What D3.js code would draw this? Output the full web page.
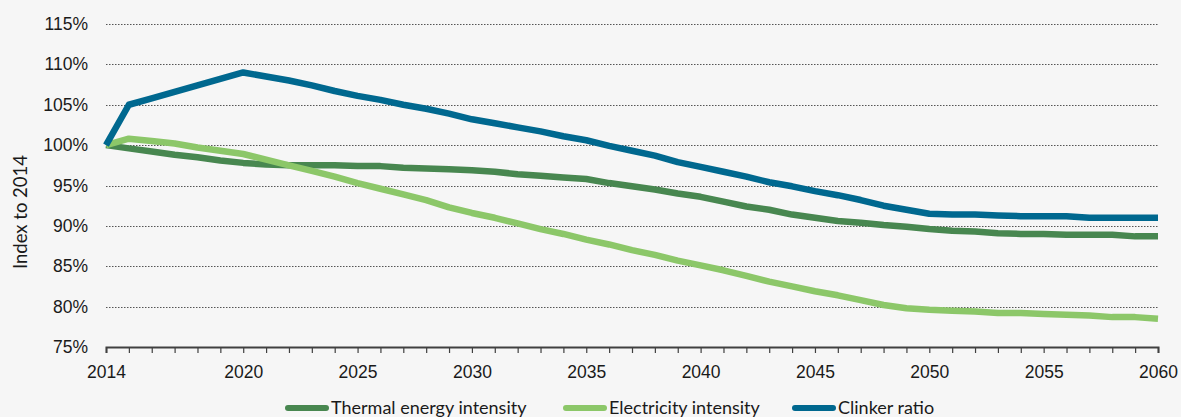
<!DOCTYPE html>
<html lang="en">
  <head>
    <meta charset="UTF-8" />
    <title>Index to 2014</title>
    <style>
      html, body { margin: 0; padding: 0; background: #f6f6f6; }
      svg { display: block; font-family: Lato, 'Liberation Sans', Arial, sans-serif; }
      .grid line { stroke: #555; stroke-width: 1; stroke-dasharray: 1.5 1.5; }
      .tick text { font-size: 17.5px; fill: #1a1a1a; }
      .legend text { font-size: 18px; fill: #1a1a1a; }
    </style>
  </head>
  <body>
    <svg width="1181" height="417"></svg>
    <script src="https://d3js.org/d3.v7.min.js"></script>
    <script>
      const years = d3.range(2014, 2061);
      const yearLabels = [2014, 2020, 2025, 2030, 2035, 2040, 2045, 2050, 2055, 2060];
      const yTicks = [0.75, 0.8, 0.85, 0.9, 0.95, 1.0, 1.05, 1.1, 1.15];
      const seriesNames = ['Thermal energy intensity', 'Electricity intensity', 'Clinker ratio'];

      const thermal = [100, 99.6, 99.2, 98.8, 98.5, 98.1, 97.8, 97.6, 97.5, 97.5,
        97.5, 97.4, 97.4, 97.2, 97.1, 97.0, 96.9, 96.7, 96.4, 96.2,
        96.0, 95.8, 95.3, 94.9, 94.5, 94.0, 93.6, 93.0, 92.4, 92.0,
        91.4, 91.0, 90.6, 90.4, 90.1, 89.9, 89.6, 89.4, 89.3, 89.1,
        89.0, 89.0, 88.9, 88.9, 88.9, 88.7, 88.7];
      const electricity = [100, 100.8, 100.5, 100.2, 99.7, 99.3, 98.9, 98.2, 97.5, 96.8,
        96.1, 95.3, 94.6, 93.9, 93.2, 92.3, 91.6, 91.0, 90.3, 89.6,
        89.0, 88.3, 87.7, 87.0, 86.4, 85.7, 85.1, 84.5, 83.8, 83.1,
        82.5, 81.9, 81.4, 80.8, 80.2, 79.8, 79.6, 79.5, 79.4, 79.2,
        79.2, 79.1, 79.0, 78.9, 78.7, 78.7, 78.5];
      const clinker = [100, 105, 105.8, 106.6, 107.4, 108.2, 109, 108.5, 108, 107.4,
        106.7, 106.1, 105.6, 105.0, 104.5, 103.9, 103.2, 102.7, 102.2, 101.7,
        101.1, 100.6, 99.9, 99.3, 98.7, 97.9, 97.3, 96.7, 96.1, 95.4,
        94.9, 94.3, 93.8, 93.2, 92.5, 92.0, 91.5, 91.4, 91.4, 91.3,
        91.2, 91.2, 91.2, 91.0, 91.0, 91.0, 91.0];

      const colors = ['#488750', '#8cc769', '#00688f'];
      const series = [thermal, electricity, clinker];

      const svg = d3.select('svg');
      const margin = { left: 106, right: 23, top: 24, bottom: 70 };
      const width = 1181 - margin.left - margin.right;
      const height = 417 - margin.top - margin.bottom;

      const g = svg.append('g').attr('transform', `translate(${margin.left},${margin.top})`);

      const x = d3.scaleLinear().domain([2014, 2060]).range([0, width]);
      const y = d3.scaleLinear().domain([0.75, 1.15]).range([height, 0]);

      // dotted gridlines
      g.append('g')
        .attr('class', 'grid')
        .selectAll('line')
        .data(yTicks.slice(1))
        .join('line')
        .attr('x1', 0)
        .attr('x2', width)
        .attr('y1', (d) => Math.round(y(d)) + 0.5)
        .attr('y2', (d) => Math.round(y(d)) + 0.5);

      // y axis labels only
      const yAxis = g.append('g')
        .call(d3.axisLeft(y).tickValues(yTicks).tickSize(0).tickPadding(18).tickFormat(d3.format('.0%')));
      yAxis.select('.domain').remove();

      // x axis with a tick every year
      const xAxis = g.append('g')
        .attr('transform', `translate(0,${height})`)
        .call(d3.axisBottom(x).tickValues(years).tickSize(6).tickPadding(13)
          .tickFormat((d) => (yearLabels.includes(d) ? d : '')));
      xAxis.select('.domain').attr('stroke', '#404040').attr('stroke-width', 2);
      xAxis.selectAll('.tick line').attr('stroke', '#404040').attr('stroke-width', 1.2);

      svg.append('text')
        .attr('transform', 'translate(27,212) rotate(-90)')
        .attr('text-anchor', 'middle')
        .attr('font-size', 18.5)
        .attr('fill', '#1a1a1a')
        .text('Index to 2014');

      const line = d3.line()
        .x((d, i) => x(years[i]))
        .y((d) => y(d / 100));

      g.append('g')
        .selectAll('path')
        .data(series)
        .join('path')
        .attr('fill', 'none')
        .attr('stroke', (d, i) => colors[i])
        .attr('stroke-width', 6.5)
        .attr('stroke-linejoin', 'round')
        .attr('d', line);

      // legend
      const legendX = [285, 563, 792];
      const legend = svg.append('g').attr('class', 'legend');
      seriesNames.forEach((name, i) => {
        legend.append('line')
          .attr('x1', legendX[i] + 3)
          .attr('x2', legendX[i] + 41)
          .attr('y1', 408)
          .attr('y2', 408)
          .attr('stroke', colors[i])
          .attr('stroke-width', 6)
          .attr('stroke-linecap', 'round');
        legend.append('text')
          .attr('x', legendX[i] + 46)
          .attr('y', 414)
          .text(name);
      });
    </script>
  </body>
</html>
